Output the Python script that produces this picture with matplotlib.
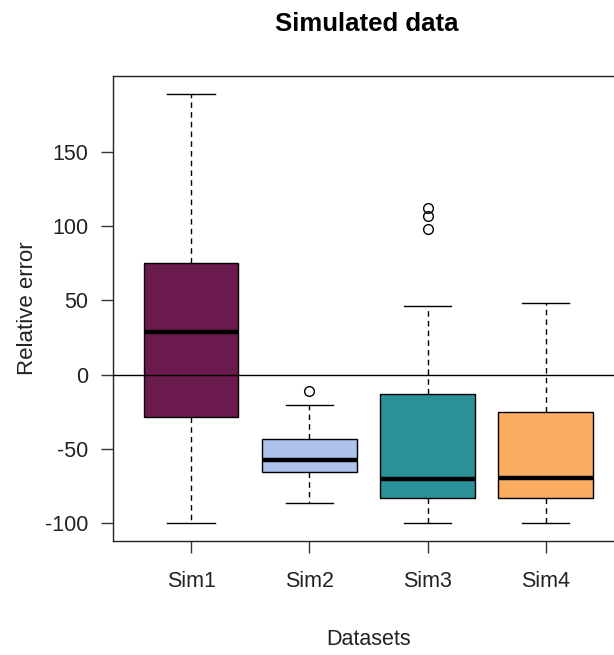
import matplotlib
matplotlib.use("Agg")
import matplotlib.pyplot as plt

plt.rcParams['font.family'] = ['Liberation Sans', 'DejaVu Sans']

# --- Data
datasets = ["Sim1", "Sim2", "Sim3", "Sim4"]
whisker_low = [-100, -86.5, -100, -100]
q1 = [-28.6, -65.6, -83, -83]
median = [28.7, -57.5, -70.4, -69.7]
q3 = [75.2, -43.4, -13, -25.2]
whisker_high = [189, -20.6, 46, 48]
outliers = [[], [-11], [112, 107, 98], []]
colors = ["#6A1A4C", "#AEC2EB", "#2A9199", "#FBAD61"]

stats = []
for i, name in enumerate(datasets):
    stats.append({
        "label": name,
        "whislo": whisker_low[i],
        "q1": q1[i],
        "med": median[i],
        "q3": q3[i],
        "whishi": whisker_high[i],
        "fliers": outliers[i],
    })

# --- Figure
fig = plt.figure(figsize=(6.14, 6.55), dpi=100)
ax = fig.add_axes([0.184, 0.174, 0.832, 0.710])

bp = ax.bxp(
    stats,
    positions=range(1, len(datasets) + 1),
    widths=0.8,
    patch_artist=True,
    showfliers=True,
    boxprops=dict(edgecolor="black", linewidth=1),
    medianprops=dict(color="black", linewidth=3.2, solid_capstyle="butt"),
    whiskerprops=dict(color="black", linewidth=1, linestyle=(0, (4, 3))),
    capprops=dict(color="black", linewidth=1),
    capwidths=0.4,
    flierprops=dict(marker="o", markerfacecolor="none", markeredgecolor="black",
                    markersize=7, markeredgewidth=1),
)
for patch, c in zip(bp["boxes"], colors):
    patch.set_facecolor(c)

ax.axhline(0, color="black", linewidth=1, zorder=5)

ax.set_xlim(0.34, 4.66)
ax.set_ylim(-112, 201)
ax.set_yticks([-100, -50, 0, 50, 100, 150])
ax.set_yticklabels(["-100", "-50", "0", "50", "100", "150"])
ax.set_xticks(range(1, len(datasets) + 1))
ax.set_xticklabels(datasets)

ax.tick_params(axis="both", direction="out", length=8.5, width=1, labelsize=15.5,
               colors="#333333", labelcolor="#222222")
ax.tick_params(axis="x", pad=13)
ax.tick_params(axis="y", pad=9)
for s in ax.spines.values():
    s.set_linewidth(1)
    s.set_color("#222222")

ax.set_xlabel("Datasets", fontsize=15.5, labelpad=27, color="#222222")
ax.set_ylabel("Relative error", fontsize=16, labelpad=5.5, color="#222222")
fig.text(0.597, 0.963, "Simulated data", ha="center", va="center",
         fontsize=18.5, fontweight="bold")

plt.savefig("out.png", dpi=100)
plt.close()
